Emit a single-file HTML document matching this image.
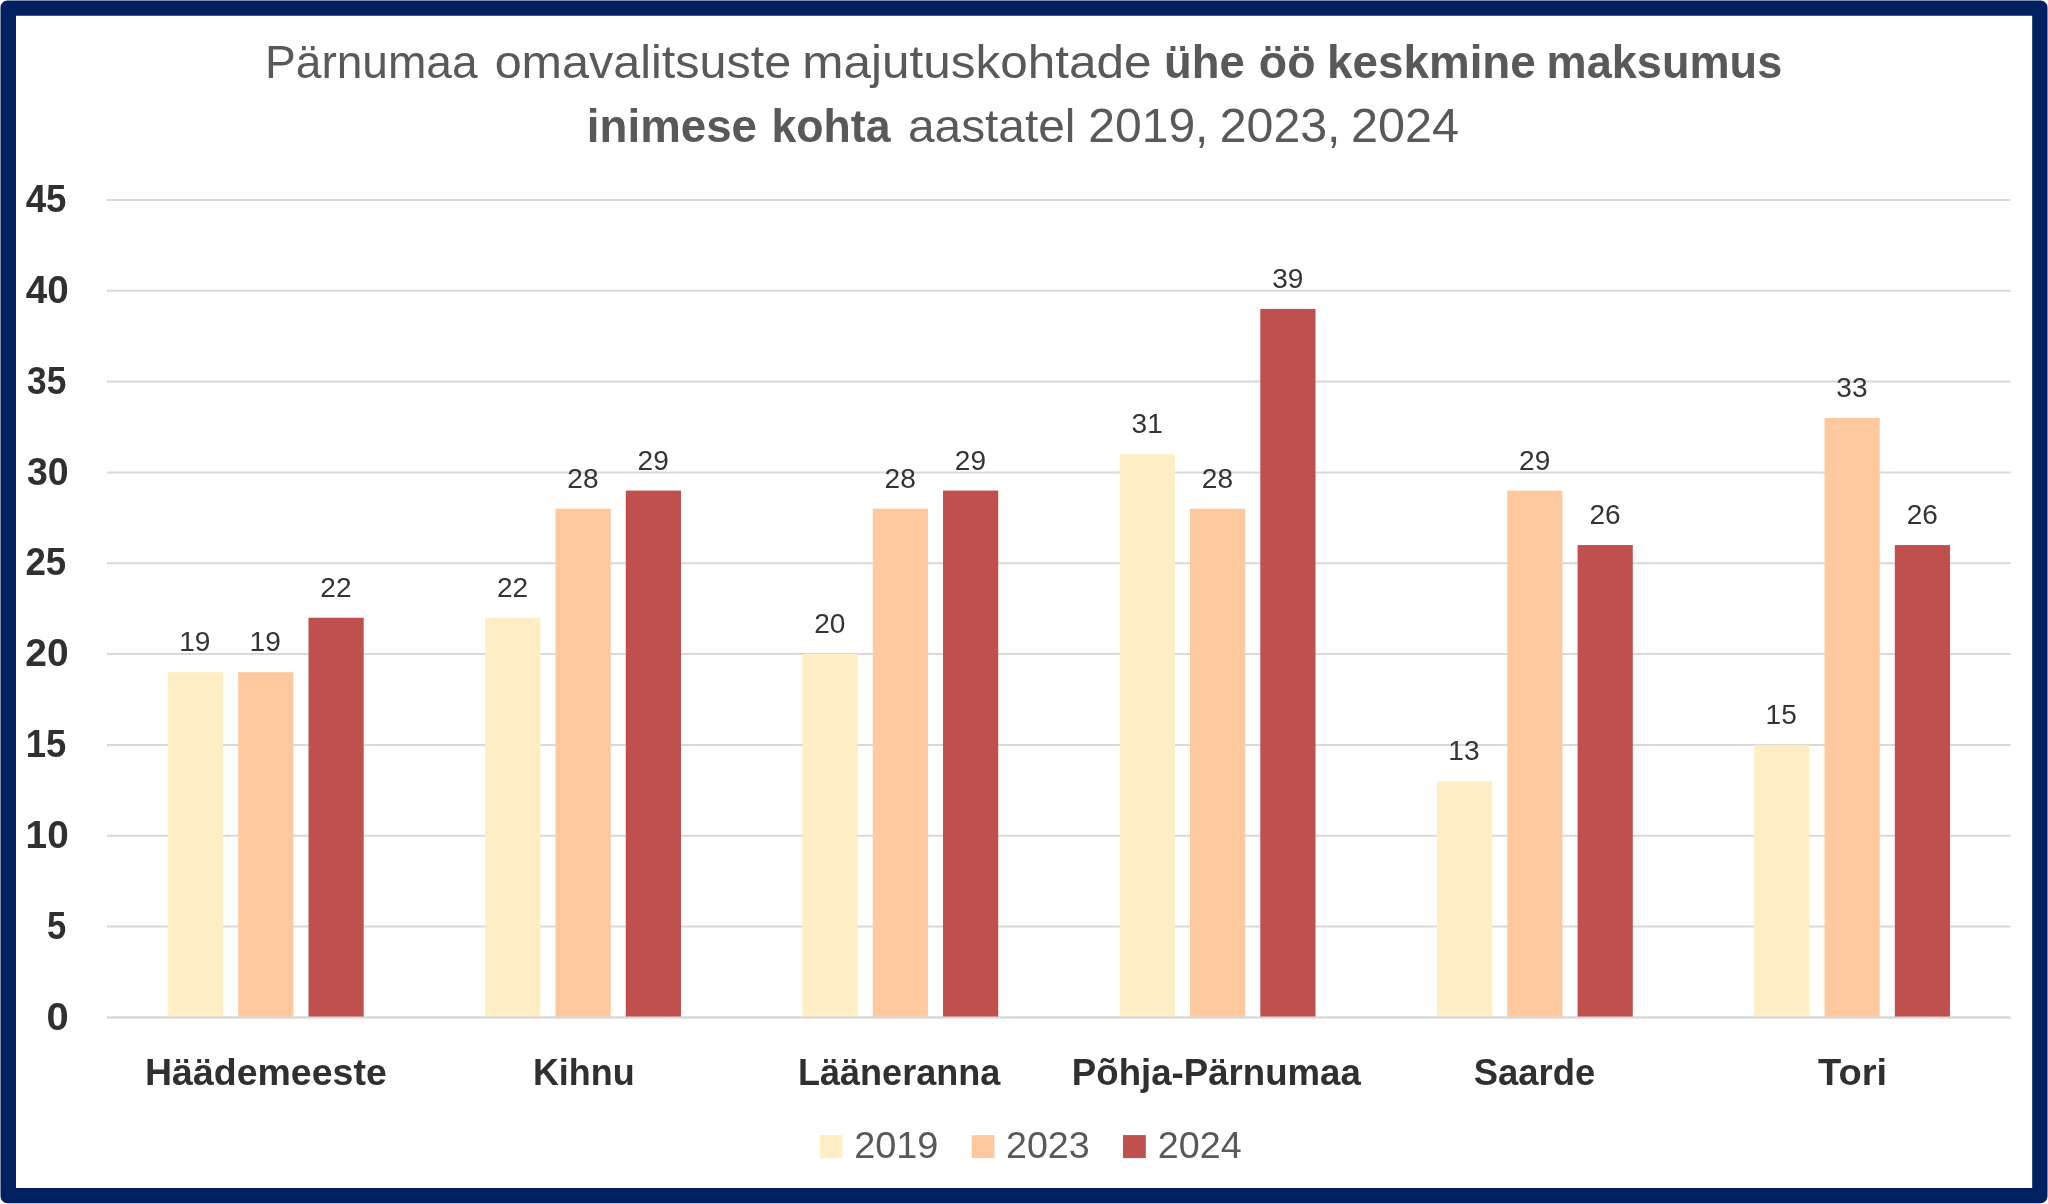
<!DOCTYPE html>
<html lang="et">
<head>
<meta charset="utf-8">
<title>Pärnumaa majutuskohtade ühe öö keskmine maksumus</title>
<style>
html,body{margin:0;padding:0;background:#fff;}
body{width:2048px;height:1204px;overflow:hidden;}
svg{display:block;will-change:transform;}
text{font-family:'Liberation Sans', sans-serif;}
.b{font-weight:bold;}
</style>
</head>
<body>
<svg width="2048" height="1204" viewBox="0 0 2048 1204">
<rect x="0" y="0" width="2048" height="1204" fill="#ffffff"/>
<g stroke="#D9D9D9" stroke-width="2" fill="none">
<line x1="107.0" y1="1017.40" x2="2010.6" y2="1017.40"/>
<line x1="107.0" y1="926.57" x2="2010.6" y2="926.57"/>
<line x1="107.0" y1="835.73" x2="2010.6" y2="835.73"/>
<line x1="107.0" y1="744.90" x2="2010.6" y2="744.90"/>
<line x1="107.0" y1="654.07" x2="2010.6" y2="654.07"/>
<line x1="107.0" y1="563.23" x2="2010.6" y2="563.23"/>
<line x1="107.0" y1="472.40" x2="2010.6" y2="472.40"/>
<line x1="107.0" y1="381.57" x2="2010.6" y2="381.57"/>
<line x1="107.0" y1="290.73" x2="2010.6" y2="290.73"/>
<line x1="107.0" y1="199.90" x2="2010.6" y2="199.90"/>
</g>
<rect x="167.90" y="672.23" width="55.20" height="345.17" fill="#FFEDC5"/>
<rect x="238.20" y="672.23" width="55.20" height="345.17" fill="#FEC99E"/>
<rect x="308.50" y="617.73" width="55.20" height="399.67" fill="#C0504D"/>
<rect x="485.17" y="617.73" width="55.20" height="399.67" fill="#FFEDC5"/>
<rect x="555.47" y="508.73" width="55.20" height="508.67" fill="#FEC99E"/>
<rect x="625.77" y="490.57" width="55.20" height="526.83" fill="#C0504D"/>
<rect x="802.43" y="654.07" width="55.20" height="363.33" fill="#FFEDC5"/>
<rect x="872.73" y="508.73" width="55.20" height="508.67" fill="#FEC99E"/>
<rect x="943.03" y="490.57" width="55.20" height="526.83" fill="#C0504D"/>
<rect x="1119.70" y="454.23" width="55.20" height="563.17" fill="#FFEDC5"/>
<rect x="1190.00" y="508.73" width="55.20" height="508.67" fill="#FEC99E"/>
<rect x="1260.30" y="308.90" width="55.20" height="708.50" fill="#C0504D"/>
<rect x="1436.97" y="781.23" width="55.20" height="236.17" fill="#FFEDC5"/>
<rect x="1507.27" y="490.57" width="55.20" height="526.83" fill="#FEC99E"/>
<rect x="1577.57" y="545.07" width="55.20" height="472.33" fill="#C0504D"/>
<rect x="1754.23" y="744.90" width="55.20" height="272.50" fill="#FFEDC5"/>
<rect x="1824.53" y="417.90" width="55.20" height="599.50" fill="#FEC99E"/>
<rect x="1894.83" y="545.07" width="55.20" height="472.33" fill="#C0504D"/>
<line x1="107.0" y1="1017.40" x2="2010.6" y2="1017.40" stroke="#D9D9D9" stroke-width="2"/>
<rect x="819.6" y="1135.1" width="22.8" height="23" fill="#FFEDC5"/>
<rect x="971.7" y="1135.1" width="22.8" height="23" fill="#FEC99E"/>
<rect x="1123.0" y="1135.1" width="22.8" height="23" fill="#C0504D"/>
<text x="265.05" y="77.60" font-size="46.80" fill="#595959" textLength="212.49" lengthAdjust="spacingAndGlyphs">Pärnumaa</text>
<text x="494.66" y="77.60" font-size="46.80" fill="#595959" textLength="296.44" lengthAdjust="spacingAndGlyphs">omavalitsuste</text>
<text x="802.33" y="77.60" font-size="46.80" fill="#595959" textLength="349.21" lengthAdjust="spacingAndGlyphs">majutuskohtade</text>
<text class="b" x="1164.06" y="77.60" font-size="46.80" fill="#595959" textLength="80.74" lengthAdjust="spacingAndGlyphs">ühe</text>
<text class="b" x="1258.81" y="77.60" font-size="46.80" fill="#595959" textLength="56.66" lengthAdjust="spacingAndGlyphs">öö</text>
<text class="b" x="1327.06" y="77.60" font-size="46.80" fill="#595959" textLength="208.74" lengthAdjust="spacingAndGlyphs">keskmine</text>
<text class="b" x="1546.51" y="77.60" font-size="46.80" fill="#595959" textLength="235.78" lengthAdjust="spacingAndGlyphs">maksumus</text>
<text class="b" x="586.87" y="142.30" font-size="46.80" fill="#595959" textLength="170.13" lengthAdjust="spacingAndGlyphs">inimese</text>
<text class="b" x="771.54" y="142.30" font-size="46.80" fill="#595959" textLength="118.93" lengthAdjust="spacingAndGlyphs">kohta</text>
<text x="907.98" y="142.30" font-size="46.80" fill="#595959" textLength="167.47" lengthAdjust="spacingAndGlyphs">aastatel</text>
<text x="1088.23" y="142.30" font-size="48.80" fill="#595959" textLength="120.27" lengthAdjust="spacingAndGlyphs">2019,</text>
<text x="1219.72" y="142.30" font-size="48.80" fill="#595959" textLength="120.80" lengthAdjust="spacingAndGlyphs">2023,</text>
<text x="1351.01" y="142.30" font-size="48.80" fill="#595959" textLength="108.13" lengthAdjust="spacingAndGlyphs">2024</text>
<text class="b" x="46.56" y="1029.50" font-size="38.50" fill="#303030" textLength="22.20" lengthAdjust="spacingAndGlyphs">0</text>
<text class="b" x="47.00" y="938.67" font-size="38.50" fill="#303030" textLength="19.27" lengthAdjust="spacingAndGlyphs">5</text>
<text class="b" x="25.59" y="847.83" font-size="38.50" fill="#303030" textLength="43.14" lengthAdjust="spacingAndGlyphs">10</text>
<text class="b" x="25.70" y="757.00" font-size="38.50" fill="#303030" textLength="40.59" lengthAdjust="spacingAndGlyphs">15</text>
<text class="b" x="25.39" y="666.17" font-size="38.50" fill="#303030" textLength="43.34" lengthAdjust="spacingAndGlyphs">20</text>
<text class="b" x="25.45" y="575.33" font-size="38.50" fill="#303030" textLength="40.85" lengthAdjust="spacingAndGlyphs">25</text>
<text class="b" x="27.00" y="484.50" font-size="38.50" fill="#303030" textLength="41.67" lengthAdjust="spacingAndGlyphs">30</text>
<text class="b" x="27.00" y="393.67" font-size="38.50" fill="#303030" textLength="39.28" lengthAdjust="spacingAndGlyphs">35</text>
<text class="b" x="25.70" y="302.83" font-size="38.50" fill="#303030" textLength="43.02" lengthAdjust="spacingAndGlyphs">40</text>
<text class="b" x="25.70" y="212.00" font-size="38.50" fill="#303030" textLength="40.79" lengthAdjust="spacingAndGlyphs">45</text>
<text class="b" x="144.94" y="1084.60" font-size="36.40" fill="#303030" textLength="241.84" lengthAdjust="spacingAndGlyphs">Häädemeeste</text>
<text class="b" x="532.93" y="1084.60" font-size="36.40" fill="#303030" textLength="101.78" lengthAdjust="spacingAndGlyphs">Kihnu</text>
<text class="b" x="797.92" y="1084.60" font-size="36.40" fill="#303030" textLength="202.53" lengthAdjust="spacingAndGlyphs">Lääneranna</text>
<text class="b" x="1071.89" y="1084.60" font-size="36.40" fill="#303030" textLength="288.95" lengthAdjust="spacingAndGlyphs">Põhja-Pärnumaa</text>
<text class="b" x="1473.70" y="1084.60" font-size="36.40" fill="#303030" textLength="121.54" lengthAdjust="spacingAndGlyphs">Saarde</text>
<text class="b" x="1818.10" y="1084.60" font-size="36.40" fill="#303030" textLength="69.01" lengthAdjust="spacingAndGlyphs">Tori</text>
<text x="179.24" y="651.33" font-size="28.20" fill="#343434" textLength="31.20" lengthAdjust="spacingAndGlyphs">19</text>
<text x="249.54" y="651.33" font-size="28.20" fill="#343434" textLength="31.20" lengthAdjust="spacingAndGlyphs">19</text>
<text x="320.34" y="596.83" font-size="28.20" fill="#343434" textLength="31.20" lengthAdjust="spacingAndGlyphs">22</text>
<text x="497.01" y="596.83" font-size="28.20" fill="#343434" textLength="31.20" lengthAdjust="spacingAndGlyphs">22</text>
<text x="567.31" y="487.83" font-size="28.20" fill="#343434" textLength="31.20" lengthAdjust="spacingAndGlyphs">28</text>
<text x="637.61" y="469.67" font-size="28.20" fill="#343434" textLength="31.20" lengthAdjust="spacingAndGlyphs">29</text>
<text x="814.27" y="633.17" font-size="28.20" fill="#343434" textLength="31.20" lengthAdjust="spacingAndGlyphs">20</text>
<text x="884.57" y="487.83" font-size="28.20" fill="#343434" textLength="31.20" lengthAdjust="spacingAndGlyphs">28</text>
<text x="954.87" y="469.67" font-size="28.20" fill="#343434" textLength="31.20" lengthAdjust="spacingAndGlyphs">29</text>
<text x="1131.54" y="433.33" font-size="28.20" fill="#343434" textLength="31.20" lengthAdjust="spacingAndGlyphs">31</text>
<text x="1201.84" y="487.83" font-size="28.20" fill="#343434" textLength="31.20" lengthAdjust="spacingAndGlyphs">28</text>
<text x="1272.14" y="288.00" font-size="28.20" fill="#343434" textLength="31.20" lengthAdjust="spacingAndGlyphs">39</text>
<text x="1448.31" y="760.33" font-size="28.20" fill="#343434" textLength="31.20" lengthAdjust="spacingAndGlyphs">13</text>
<text x="1519.11" y="469.67" font-size="28.20" fill="#343434" textLength="31.20" lengthAdjust="spacingAndGlyphs">29</text>
<text x="1589.41" y="524.17" font-size="28.20" fill="#343434" textLength="31.20" lengthAdjust="spacingAndGlyphs">26</text>
<text x="1765.58" y="724.00" font-size="28.20" fill="#343434" textLength="31.20" lengthAdjust="spacingAndGlyphs">15</text>
<text x="1836.37" y="397.00" font-size="28.20" fill="#343434" textLength="31.20" lengthAdjust="spacingAndGlyphs">33</text>
<text x="1906.67" y="524.17" font-size="28.20" fill="#343434" textLength="31.20" lengthAdjust="spacingAndGlyphs">26</text>
<text x="854.16" y="1158.00" font-size="36.50" fill="#595959" textLength="84.18" lengthAdjust="spacingAndGlyphs">2019</text>
<text x="1005.97" y="1158.00" font-size="36.50" fill="#595959" textLength="83.67" lengthAdjust="spacingAndGlyphs">2023</text>
<text x="1157.87" y="1158.00" font-size="36.50" fill="#595959" textLength="83.84" lengthAdjust="spacingAndGlyphs">2024</text>
<path fill="#002060" fill-rule="evenodd" d="M7.5 0.5H2040.5A7 7 0 0 1 2047.5 7.5V1196.2A7 7 0 0 1 2040.5 1203.2H7.5A7 7 0 0 1 0.5 1196.2V7.5A7 7 0 0 1 7.5 0.5Z M16.0 15.8V1188.1H2032.2V15.8Z"/>
</svg>
</body>
</html>
